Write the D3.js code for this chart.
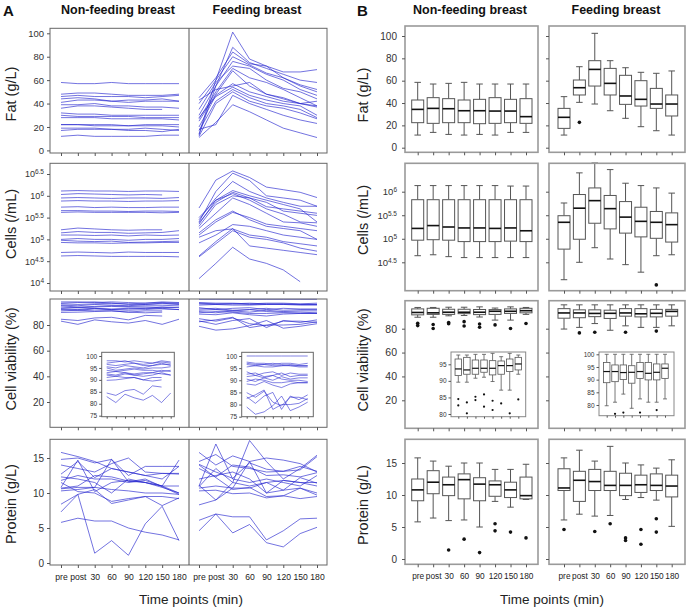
<!DOCTYPE html>
<html><head><meta charset="utf-8">
<script src="https://cdn.jsdelivr.net/npm/d3@7"></script>
<style>body{margin:0;background:#fff}svg{display:block}</style>
</head><body><svg id="c" width="689" height="610"></svg>
<script>
// ---------- DATA ----------
const timeLabels = ["pre","post","30","60","90","120","150","180"];

// Panel A: individual lines (fat g/L)
const fatNF = [
 [58,57,57,58,57,57,57,57],[48,49,49,48,47,47,47,48],[46,47,46,46,46,45,46,47],
 [44,45,44,42,43,43,44,42],[41,43,43,42,41,42,42,42],[39,39,40,38,38,37,37,36],
 [36,38,38,37,36,35,35,null],[32,31,31,30,30,30,30,30],[30,29,29,29,29,28,28,28],
 [28,28,28,27,27,27,27,26],[22,22,22,22,21,22,22,22],[22,22,21,21,21,21,21,20],
 [19,19,19,18,18,19,18,17],[17,18,18,18,17,17,16,18],[12,13,12,12,12,12,13,13]];
const fatF = [
 [14,60,101,78,72,67,67,69],[13,55,88,75,70,65,60,58],[45,62,84,74,72,62,56,52],
 [40,60,80,73,66,62,55,50],[30,55,76,72,65,60,52,47],[35,58,72,70,60,53,50,44],
 [27,50,70,62,58,52,45,38],[25,48,68,55,48,45,40,37],[20,47,57,50,46,42,40,38],
 [28,46,54,47,43,40,38,30],[17,42,52,45,40,38,35,28],[12,40,50,42,38,36,32,27],
 [18,22,47,40,35,30,26,23],[11,24,39,33,26,19,15,11],[43,52,55,58,48,44,40,42]];
// cells: log10 (/mL)
const cellsNF = [
 [6.11,6.12,6.11,6.11,6.10,6.11,6.11,6.10],[6.03,6.05,6.04,6.03,6.02,6.03,6.02,null],
 [5.95,5.96,5.95,5.94,5.95,5.95,5.94,5.96],[5.88,5.89,5.88,5.88,5.87,5.88,5.88,5.89],
 [5.74,5.75,5.73,5.74,5.73,5.73,5.74,5.74],[5.66,5.66,5.65,5.65,5.64,5.65,5.65,5.64],
 [5.62,5.63,5.62,5.62,5.62,5.62,5.61,5.62],[5.22,5.26,5.24,5.22,5.21,5.22,5.22,null],
 [5.15,5.18,5.16,5.16,5.14,5.15,5.16,5.20],[5.10,5.10,5.09,5.10,5.08,5.10,5.09,5.10],
 [5.00,5.02,5.00,5.00,4.98,5.00,5.00,5.02],[4.98,4.96,4.95,4.96,4.93,4.94,4.95,4.96],
 [4.93,4.92,4.92,4.91,4.92,4.92,4.93,4.93],[4.70,4.71,4.70,4.69,4.71,4.70,4.70,4.70],
 [4.62,4.63,4.62,4.61,4.61,4.61,4.61,4.60]];
const cellsF = [
 [5.72,6.36,6.57,6.42,6.20,6.14,6.08,5.96],[5.40,6.10,6.52,6.35,6.00,5.95,5.90,5.76],
 [5.45,5.95,6.33,6.10,5.95,5.85,5.76,5.76],[5.35,5.90,6.12,6.00,5.90,5.80,5.70,5.40],
 [5.38,5.85,6.08,5.95,5.85,5.65,5.60,5.55],[5.30,5.80,6.00,5.95,5.75,5.70,5.65,5.60],
 [5.50,5.90,6.05,5.90,5.70,5.58,5.40,5.38],[5.25,5.60,5.95,5.80,5.60,5.40,5.38,5.30],
 [5.10,5.40,5.62,5.50,5.35,5.30,5.25,5.20],[5.15,5.45,5.65,5.45,5.30,5.25,5.20,5.00],
 [4.92,5.10,5.34,5.30,5.20,5.10,5.05,5.00],[5.05,5.20,5.24,5.10,5.05,4.95,4.90,4.85],
 [4.60,4.90,5.20,5.05,5.00,4.92,4.80,4.73],[4.62,4.95,5.25,4.85,4.80,4.75,4.70,4.65],
 [4.10,4.45,4.82,4.55,4.45,4.30,4.03,null]];
// cell viability %
const viaNF = [
 [98,98,97.5,98,97.5,97,98,97.5],[97,97.5,98,97,96.5,97,97.5,97],[96.5,96,96.5,97,96,96,96.5,96.5],
 [95.5,95,96,95.5,95,96,97,96],[95,94,94.5,95,94.5,95,95,95.5],[94,93.5,94,94.5,94,94,93.5,94],
 [93,93.5,93,92.5,93,93,94,93.5],[92.5,92,93,92,92.5,93,92.5,92],[92,91.5,92.5,92,91.5,92,93,92],
 [91,91.5,91,91,90,91,91,null],[89.8,90,90.5,91,90,89.5,90,null],
 [84.5,83.5,85.5,86,84,87.5,87,null],[83,80.5,84,82.5,81.5,83.5,80.5,84.5]];
const viaF = [
 [100,100,100,100,100,100,100,100],[97.5,97,97,96.5,97,97,96.5,97],[97,96.5,96.5,96,96,96.5,96,96],
 [96.5,96,95.5,95.5,96,96,95.5,95.5],[95.5,96,96.5,97,96.5,96,96,96],[93.5,92,93,93.5,92,93,92.5,92.5],
 [92.5,93,91.5,92,93,91.5,92,92],[91.5,92,91,90,91.5,90.5,91,91],[90.5,89.5,91,92,90.5,90,90,89.5],
 [89.5,90.5,90,89,89,89.5,89,89],[88.5,88,89.5,88,87,88.5,89,89],[84.9,83,85.5,81,79.5,83,83,82],
 [83.2,80.5,83.5,85,78,83.5,82,84],[82.5,84,86,78,80,80,80.5,82.5],[79,76,77,79.5,83.5,77.5,79,81]];
// protein g/L
const protNF = [
 [15.8,15.2,14.5,13.5,13.0,12.5,12.0,13.8],[14.8,15.0,14.3,14.8,12.5,13.8,13.8,13.8],
 [14.0,13.5,13.0,14.2,15.0,13.0,12.8,12.7],[12.7,14.5,12.2,13.5,13.0,12.5,12.8,12.8],
 [10.8,14.7,10.2,11.5,11.8,11.5,11.0,14.7],[11.8,12.5,12.0,12.0,11.5,11.8,11.0,11.0],
 [10.7,11.0,12.5,12.3,11.7,11.5,10.8,10.0],[10.3,10.5,10.8,10.5,10.3,10.0,10.0,9.8],
 [8.4,9.8,10.5,8.5,9.0,9.5,9.5,9.2],[11.5,10.2,10.0,8.8,9.2,9.5,8.2,9.3],
 [7.3,9.8,1.4,3.2,1.1,5.6,8.1,3.2],[5.8,6.4,6.0,6.0,5.0,4.4,4.0,3.3],
 [12.3,12.0,11.5,10.0,12.0,11.5,11.0,10.0],[10.6,10.8,10.8,14.8,11.6,12.0,10.9,9.8]];
const protF = [
 [11.0,17.0,12.0,11.5,12.0,11.5,11.0,12.5],[8.3,9.0,11.5,17.5,14.5,12.0,13.5,15.4],
 [15.8,14.0,15.3,14.5,15.0,14.7,14.2,13.0],[14.5,15.5,13.8,13.5,13.0,13.1,13.8,13.1],
 [14.1,13.0,12.1,14.3,13.4,13.1,13.3,15.2],[13.5,12.3,14.0,13.7,12.5,12.6,12.3,12.9],
 [12.0,12.5,13.0,12.0,10.0,11.8,11.5,11.5],[11.1,9.0,10.7,14.5,10.0,10.4,12.2,11.4],
 [10.9,13.5,11.5,11.0,11.5,11.8,11.5,11.0],[10.7,11.0,10.7,10.7,11.5,10.4,10.7,9.7],
 [10.3,10.4,9.9,10.0,9.3,9.6,9.2,9.5],[6.1,7.0,6.6,6.6,3.3,4.6,6.3,6.4],
 [4.6,7.0,4.3,5.5,2.9,2.3,4.2,5.1],[14.0,12.2,10.5,10.8,9.5,9.6,10.7,10.0]];

// Panel B: box stats [low whisker, Q1, median, Q3, high whisker] and outliers
const boxFatNF = [[11.3,22.4,34.3,42.7,58.5],[13.7,21.8,35.2,44.8,57],[11.9,22.4,34.9,43.9,57.6],[11.3,22.4,33.1,42.7,58.5],
 [11.9,21.5,33.1,43.3,57],[11.3,21.8,32.8,44.8,57],[13.7,22.4,32.8,43.3,57],[13.7,21.8,27.8,43.9,57]];
const outFatNF = [[],[],[],[],[],[],[],[]];
const boxFatF = [[11.3,17.3,27.2,35.2,45.7],[40.6,47.2,53.7,60.6,72.5],[39.1,55.2,70.1,77.9,102.4],[33.1,47.2,57.6,71,77.9],
 [26.3,38.8,46.3,64.8,71.6],[18.8,37.3,43.3,60,67.5],[15.2,35.2,39.1,53.1,66.6],[11.3,28.4,39.1,47.2,68.7]];
const outFatF = [[],[22.7],[],[],[],[],[],[]];
const boxCellsNF = [[4.64,4.97,5.22,5.83,6.13],[4.66,4.98,5.28,5.83,6.13],[4.62,4.97,5.25,5.83,6.13],[4.60,4.94,5.23,5.83,6.13],
 [4.60,4.94,5.23,5.83,6.13],[4.60,4.94,5.22,5.83,6.13],[4.60,4.95,5.23,5.83,6.12],[4.60,4.94,5.17,5.83,6.12]];
const outCellsNF = [[],[],[],[],[],[],[],[]];
const boxCellsF = [[4.13,4.78,5.35,5.49,5.76],[4.50,4.99,5.65,5.94,6.40],[4.81,5.33,5.81,6.08,6.61],[4.57,5.21,5.64,5.92,6.47],
 [4.45,5.12,5.46,5.79,6.18],[4.29,5.04,5.37,5.67,6.13],[4.64,5.01,5.35,5.58,6.08],[4.66,4.93,5.30,5.55,5.97]];
const outCellsF = [[],[],[],[],[],[],[4.02],[]];
const boxViaNF = [[89.6,91.6,93.6,96.6,97.8],[89.6,92,93.3,97.1,97.8],[90.8,92,93.8,96.3,98],[91.1,92.6,93.8,96.3,98],
 [89.8,91.8,93.8,96.1,98.3],[87.2,92,94.6,96,97.3],[87.2,92.8,94.6,96.6,98.3],[92,93.3,95.1,97.1,97.8]];
const outViaNF = [[84.5,82.6],[83.5,80.2],[85.2,84.2],[85.9,82.2],[84,81.2],[83.2],[80.2],[84.4]];
const boxViaF = [[79.7,88.8,93.2,96.8,100],[81.1,89.2,93.2,95.8,100],[84.3,90.1,92.8,95.8,100],[78.7,88.6,92.9,95.5,100],
 [82.4,90.5,93.2,96.8,100],[81.1,89.9,92.5,96.8,100],[81.1,89.9,92.9,96.2,100],[82.4,90.5,94.5,96.2,100]];
const outViaF = [[],[76.5],[77],[],[77],[],[78],[]];
const boxProtNF = [[5.8,9.1,10.8,12.5,15.8],[6.4,10.2,12.0,13.8,15.3],[6.0,9.9,11.6,12.8,14.5],[6.1,9.4,12.4,13.3,15.0],
 [5.0,9.1,11.7,12.7,15.0],[9.0,9.8,11.6,12.2,14.0],[8.1,9.6,10.8,12.0,14.0],[9.3,9.4,9.9,12.8,14.8]];
const outProtNF = [[],[],[1.4],[3.1],[1.0],[5.5,4.4],[4.2],[3.3]];
const boxProtF = [[6.1,10.7,11.1,14.1,15.8],[7.0,9.0,12.3,13.7,17.0],[6.7,10.7,12.1,14.0,15.3],[6.8,10.7,11.5,13.7,17.6],
 [9.3,9.9,11.5,13.4,15.0],[9.6,10.4,11.6,13.1,14.7],[9.2,10.7,11.5,13.3,14.2],[5.1,9.7,11.4,13.1,15.5]];
const outProtF = [[4.6],[],[4.3],[5.5],[3.3,2.9],[4.6,2.3],[6.3,4.2],[]];

// tick values
const fatTicks = [0,20,40,60,80,100];
const cellsTicksA = [4,4.5,5,5.5,6,6.5];
const cellsTicksB = [4.5,5,5.5,6];
const viaTicks = [20,40,60,80];
const protTicks = [0,5,10,15];
const insetTicksA = [75,80,85,90,95,100];
const insetTicksBNF = [80,85,90,95];
const insetTicksBF = [80,85,90,95,100];

// ---------- DRAWING ----------
const FONT = "'Liberation Sans', Arial, sans-serif";
const svg = d3.select("#c").attr("font-family", FONT);
const LINE = "#2626cf";

function rect(x0,y0,x1,y1,stroke,w,fill){
  svg.append("rect").attr("x",x0).attr("y",y0).attr("width",x1-x0).attr("height",y1-y0)
    .attr("fill",fill||"none").attr("stroke",stroke).attr("stroke-width",w);
}
function yAxis(scale,x,ticks,o){
  o=o||{};
  const g = svg.append("g").attr("transform",`translate(${x},0)`)
    .call(d3.axisLeft(scale).tickValues(ticks).tickSize(o.size||3).tickPadding(o.pad||3));
  g.attr("font-family",FONT).attr("font-size",o.fs||9.5);
  g.select(".domain").remove();
  g.selectAll("line").attr("stroke",o.color||"#555");
  g.selectAll("text").attr("fill","#333");
  if(o.noLabel) g.selectAll("text").remove();
  if(o.exp) g.selectAll("text").each(function(d){
    const t=d3.select(this); t.text("10");
    t.append("tspan").attr("dy","-0.45em").attr("font-size",6.5).text(d);
  });
  return g;
}
function xAxis(scale,y,o){
  o=o||{};
  const g = svg.append("g").attr("transform",`translate(0,${y})`)
    .call(d3.axisBottom(scale).tickSize(o.size||3).tickPadding(o.pad||5));
  g.attr("font-family",FONT).attr("font-size",o.fs||9.5);
  g.select(".domain").remove();
  g.selectAll("line").attr("stroke",o.color||"#555");
  g.selectAll("text").attr("fill","#222");
  if(!o.labels) g.selectAll("text").remove();
  return g;
}
function lines(data,x,y,o){
  o=o||{};
  const gen = d3.line().defined(d=>d!=null).x((d,i)=>x(timeLabels[i])).y(d=>y(d));
  svg.append("g").selectAll("path").data(data).join("path")
    .attr("d",gen).attr("fill","none").attr("stroke",LINE)
    .attr("stroke-width",o.w||0.9).attr("stroke-opacity",o.op||0.72);
}
function boxes(stats,outs,x,y,o){
  const w=o.w, cw=o.cw, g=svg.append("g");
  stats.forEach((s,i)=>{
    const cx=x(timeLabels[i]);
    g.append("line").attr("x1",cx).attr("x2",cx).attr("y1",y(s[0])).attr("y2",y(s[1])).attr("stroke","#555").attr("stroke-width",o.sw||1);
    g.append("line").attr("x1",cx).attr("x2",cx).attr("y1",y(s[3])).attr("y2",y(s[4])).attr("stroke","#555").attr("stroke-width",o.sw||1);
    g.append("line").attr("x1",cx-cw/2).attr("x2",cx+cw/2).attr("y1",y(s[0])).attr("y2",y(s[0])).attr("stroke","#555").attr("stroke-width",o.sw||1);
    g.append("line").attr("x1",cx-cw/2).attr("x2",cx+cw/2).attr("y1",y(s[4])).attr("y2",y(s[4])).attr("stroke","#555").attr("stroke-width",o.sw||1);
    g.append("rect").attr("x",cx-w/2).attr("y",y(s[3])).attr("width",w).attr("height",Math.max(0.5,y(s[1])-y(s[3])))
      .attr("fill","#fff").attr("stroke","#555").attr("stroke-width",o.sw||1);
    g.append("line").attr("x1",cx-w/2).attr("x2",cx+w/2).attr("y1",y(s[2])).attr("y2",y(s[2])).attr("stroke","#111").attr("stroke-width",o.mw||1.6);
    (outs[i]||[]).forEach(v=>g.append("circle").attr("cx",cx).attr("cy",y(v)).attr("r",o.r||1.8).attr("fill","#111"));
  });
}
function text(x,y,s,o){
  o=o||{};
  const t=svg.append("text").attr("x",x).attr("y",y).text(s).attr("font-size",o.fs||12)
    .attr("text-anchor",o.anchor||"middle").attr("fill",o.fill||"#111");
  if(o.bold) t.attr("font-weight","bold");
  if(o.rot) t.attr("transform",`rotate(-90,${x},${y})`);
  return t;
}

// ----- PANEL A -----
const AL=50, AM=189, AR=327;
const rowsA = {fat:[28.3,153],cells:[163.3,291],via:[299,427.3],prot:[439.3,565]};
const xANF = d3.scalePoint().domain(timeLabels).range([61,179]);
const xAF = d3.scalePoint().domain(timeLabels).range([199,317]);
const yAfat = d3.scaleLinear().domain([0,100]).range([150.4,33.3]);
const yAcells = d3.scaleLinear().domain([4,6.5]).range([283,174]);
const yAvia = d3.scaleLinear().domain([20,80]).range([402,325]);
const yAprot = d3.scaleLinear().domain([0,15]).range([563,458]);

lines(fatNF,xANF,yAfat); lines(fatF,xAF,yAfat);
lines(cellsNF,xANF,yAcells); lines(cellsF,xAF,yAcells);
lines(viaNF,xANF,yAvia); lines(viaF,xAF,yAvia);
lines(protNF,xANF,yAprot); lines(protF,xAF,yAprot);

Object.values(rowsA).forEach(r=>{
  rect(AL,r[0],AR,r[1],"#666",1);
  svg.append("line").attr("x1",AM).attr("x2",AM).attr("y1",r[0]).attr("y2",r[1]).attr("stroke","#555").attr("stroke-width",1);
});
yAxis(yAfat,AL,fatTicks);
yAxis(yAcells,AL,cellsTicksA,{exp:true,fs:9});
yAxis(yAvia,AL,viaTicks,{fs:10});
yAxis(yAprot,AL,protTicks,{fs:10});
["fat","cells","via"].forEach(k=>{ xAxis(xANF,rowsA[k][1]); xAxis(xAF,rowsA[k][1]); });
xAxis(xANF,rowsA.prot[1],{labels:true,pad:6,fs:8.6});
xAxis(xAF,rowsA.prot[1],{labels:true,pad:6,fs:8.6});

// A insets
function insetA(x0,x1,xr,yr){
  rect(x0,352.3,x1,416.7,"#666",1,"#fff");
  const xs = d3.scalePoint().domain(timeLabels).range(xr);
  const ys = d3.scaleLinear().domain([75,100]).range(yr);
  return [xs,ys];
}
let [xiA1,yiA1] = insetA(101.7,174.3,[106.7,170.7],[415.7,356]);
lines(viaNF,xiA1,yiA1,{w:0.8});
yAxis(yiA1,101.7,insetTicksA,{fs:6.5,size:2.5,pad:2});
xAxis(xiA1,416.7,{size:2});
let [xiA2,yiA2] = insetA(241.7,313.3,[246.7,307.7],[416.7,356]);
lines(viaF,xiA2,yiA2,{w:0.8});
yAxis(yiA2,241.7,insetTicksA,{fs:6.5,size:2.5,pad:2});
xAxis(xiA2,416.7,{size:2});

// ----- PANEL B -----
const colsB = {nf:[405,538],f:[549,685]};
const rowsB = {fat:[26,152.3],cells:[163.3,290.7],via:[300.7,428.3],prot:[439.3,564.3]};
const xBNF = d3.scalePoint().domain(timeLabels).range([417.7,526]);
const xBF = d3.scalePoint().domain(timeLabels).range([564,671.7]);
const yBfat = d3.scaleLinear().domain([0,100]).range([147.7,36]);
const yBcells = d3.scaleLinear().domain([4.5,6]).range([262.3,191.7]);
const yBvia = d3.scaleLinear().domain([20,80]).range([400.3,328.7]);
const yBprot = d3.scaleLinear().domain([0,15]).range([559,463]);

const bo = {w:12,cw:6.5,r:1.8};
boxes(boxFatNF,outFatNF,xBNF,yBfat,bo); boxes(boxFatF,outFatF,xBF,yBfat,bo);
boxes(boxCellsNF,outCellsNF,xBNF,yBcells,bo); boxes(boxCellsF,outCellsF,xBF,yBcells,bo);
boxes(boxViaNF,outViaNF,xBNF,yBvia,bo); boxes(boxViaF,outViaF,xBF,yBvia,bo);
boxes(boxProtNF,outProtNF,xBNF,yBprot,bo); boxes(boxProtF,outProtF,xBF,yBprot,bo);

Object.values(rowsB).forEach(r=>{
  rect(colsB.nf[0],r[0],colsB.nf[1],r[1],"#9a9a9a",1.6);
  rect(colsB.f[0],r[0],colsB.f[1],r[1],"#9a9a9a",1.6);
});
yAxis(yBfat,405,fatTicks,{fs:10,pad:5}); yAxis(yBfat,549,fatTicks,{noLabel:true});
yAxis(yBcells,405,cellsTicksB,{exp:true,fs:9.5,pad:5}); yAxis(yBcells,549,cellsTicksB,{noLabel:true});
yAxis(yBvia,405,viaTicks,{fs:10.5,pad:5}); yAxis(yBvia,549,viaTicks,{noLabel:true});
yAxis(yBprot,405,protTicks,{fs:10,pad:5}); yAxis(yBprot,549,protTicks,{noLabel:true});
["fat","cells","via"].forEach(k=>{ xAxis(xBNF,rowsB[k][1]); xAxis(xBF,rowsB[k][1]); });
xAxis(xBNF,rowsB.prot[1],{labels:true,pad:6,fs:8.3});
xAxis(xBF,rowsB.prot[1],{labels:true,pad:6,fs:8.3});

// B insets
rect(451,352,525.7,416.7,"#888",1,"#fff");
const xiB1 = d3.scalePoint().domain(timeLabels).range([458.3,518.3]);
const yiB1 = d3.scaleLinear().domain([80,95]).range([414,364.3]);
boxes(boxViaNF,outViaNF,xiB1,yiB1,{w:6.5,cw:4,r:1.1,sw:0.8,mw:1.2});
yAxis(yiB1,451,insetTicksBNF,{fs:6.5,size:2.5,pad:2});
xAxis(xiB1,416.7,{size:2});
rect(599,352,674,415.7,"#888",1,"#fff");
const xiB2 = d3.scalePoint().domain(timeLabels).range([606.7,665]);
const yiB2 = d3.scaleLinear().domain([80,100]).range([405,354.3]);
boxes(boxViaF,outViaF,xiB2,yiB2,{w:6.5,cw:4,r:1.1,sw:0.8,mw:1.2});
yAxis(yiB2,599,insetTicksBF,{fs:6.5,size:2.5,pad:2});
xAxis(xiB2,415.7,{size:2});

// ----- TEXT -----
text(3,16,"A",{fs:15,bold:true,anchor:"start"});
text(357,16,"B",{fs:15,bold:true,anchor:"start"});
text(118,14,"Non-feeding breast",{fs:12.5,bold:true});
text(257,14,"Feeding breast",{fs:12.5,bold:true});
text(470,14,"Non-feeding breast",{fs:12.5,bold:true});
text(616,14,"Feeding breast",{fs:12.5,bold:true});
const yTitles = ["Fat (g/L)","Cells (/mL)","Cell viability (%)","Protein (g/L)"];
const yCentA = [94,224,359,504], yCentB = [95,220,360,505];
yTitles.forEach((s,i)=>{
  text(16,yCentA[i],s,{fs:14.5,rot:true,fill:"#222"});
  text(368,yCentB[i],s,{fs:14.5,rot:true,fill:"#222"});
});
text(191,604,"Time points (min)",{fs:13.5,fill:"#222"});
text(552,604,"Time points (min)",{fs:13.5,fill:"#222"});
</script></body></html>
